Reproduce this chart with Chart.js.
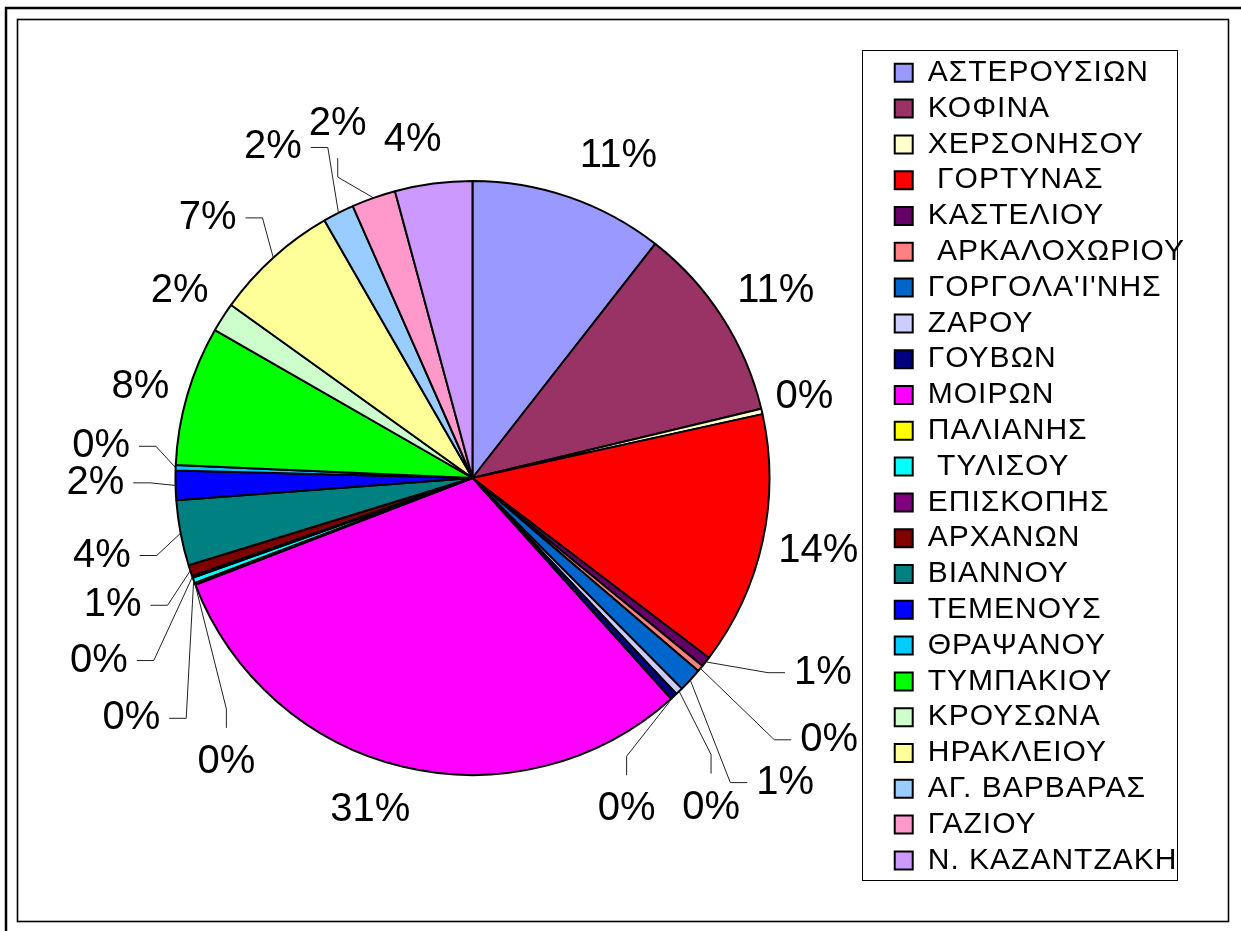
<!DOCTYPE html>
<html>
<head>
<meta charset="utf-8">
<script src="https://cdn.jsdelivr.net/npm/chart.js@4.4.1/dist/chart.umd.min.js"></script>
<style>
  body { margin: 0; background: #fff; }
  canvas { display: block; }
</style>
</head>
<body>
<canvas id="pieChart" width="1241" height="931"></canvas>
<script>
const categories = [
    'ΑΣΤΕΡΟΥΣΙΩΝ', 'ΚΟΦΙΝΑ', 'ΧΕΡΣΟΝΗΣΟΥ', ' ΓΟΡΤΥΝΑΣ', 'ΚΑΣΤΕΛΙΟΥ',
    ' ΑΡΚΑΛΟΧΩΡΙΟΥ', "ΓΟΡΓΟΛΑ'Ι'ΝΗΣ", 'ΖΑΡΟΥ', 'ΓΟΥΒΩΝ', 'ΜΟΙΡΩΝ',
    'ΠΑΛΙΑΝΗΣ', ' ΤΥΛΙΣΟΥ', 'ΕΠΙΣΚΟΠΗΣ', 'ΑΡΧΑΝΩΝ', 'ΒΙΑΝΝΟΥ',
    'ΤΕΜΕΝΟΥΣ', 'ΘΡΑΨΑΝΟΥ', 'ΤΥΜΠΑΚΙΟΥ', 'ΚΡΟΥΣΩΝΑ', 'ΗΡΑΚΛΕΙΟΥ',
    'ΑΓ. ΒΑΡΒΑΡΑΣ', 'ΓΑΖΙΟΥ', 'Ν. ΚΑΖΑΝΤΖΑΚΗ'
];
// share of each area (%)
const shares = [
    10.55, 10.7, 0.3, 13.8, 0.55,
    0.35, 1.3, 0.4, 0.4, 30.8,
    0.1, 0.3, 0.1, 0.6, 3.55,
    1.6, 0.3, 7.6, 1.6, 6.8,
    1.7, 2.4, 4.2
];
const sliceColors = [
    '#9999FF', '#993366', '#FFFFCC', '#FF0000', '#660066',
    '#FF8080', '#0066CC', '#CCCCFF', '#000080', '#FF00FF',
    '#FFFF00', '#00FFFF', '#800080', '#800000', '#008080',
    '#0000FF', '#00CCFF', '#00FF00', '#CCFFCC', '#FFFF99',
    '#99CCFF', '#FF99CC', '#CC99FF'
];

// label layout: turn away from the slice middle (deg), distance (radii), leader kind
const labelTurn = [5.4, 1.1, -0.7, -0.5, -9.2, -3.6, 1.4, 8.2, 17.7, 3.6,
    -28.2, -15.0, -6.6, -1.3, -1.1, 0.7, 2.9, -0.8, -0.2, -3.4, -4.3, -1.4, -2.5];
const labelReach = [1.19, 1.20, 1.15, 1.19, 1.35, 1.49, 1.47, 1.37, 1.23, 1.17,
    1.265, 1.405, 1.40, 1.285, 1.275, 1.27, 1.255, 1.16, 1.17, 1.25, 1.30, 1.275, 1.155];
const leaderKind = ['', '', '', '', 'h', 'h', 'h', 'v', 'v', '',
    'v', 'h', 'h', 'h', 'h', 'h', 'h', '', '', 'h', 'h', 'v', ''];

const fontFamily = '"Liberation Sans", Arial, sans-serif';
const legendSpacing = '1px';

const framePlugin = {
    id: 'frames',
    beforeLayout(chart) {
        chart.ctx.letterSpacing = legendSpacing;
    },
    afterLayout(chart) {
        chart.ctx.letterSpacing = '0px';
    },
    beforeDraw(chart) {
        const c = chart.ctx;
        c.save();
        c.fillStyle = '#fff';
        c.fillRect(0, 0, chart.width, chart.height);
        c.strokeStyle = '#000';
        c.lineWidth = 2.5;
        c.beginPath();
        c.moveTo(6, chart.height);
        c.lineTo(6, 8);
        c.lineTo(chart.width, 8);
        c.stroke();
        c.lineWidth = 1.6;
        c.strokeRect(17.5, 19.5, 1211, 902);
        c.restore();
        // the legend text runs a bit wider in the original
        c.letterSpacing = legendSpacing;
    },
    beforeDatasetsDraw(chart) {
        chart.ctx.letterSpacing = '0px';
    },
    afterDraw(chart) {
        const lg = chart.legend;
        const pad = lg.options.labels.padding;
        const c = chart.ctx;
        c.save();
        c.strokeStyle = '#000';
        c.lineWidth = 1;
        const x1 = Math.round(lg.left + pad - 33) + 0.5;
        const y1 = Math.round(lg.top - 2) + 0.5;
        c.strokeRect(x1, y1, 315, 830);
        c.restore();
    }
};

const percentPlugin = {
    id: 'percentLabels',
    afterDatasetsDraw(chart) {
        const c = chart.ctx;
        const meta = chart.getDatasetMeta(0);
        const total = shares.reduce((a, b) => a + b, 0);
        c.save();
        c.letterSpacing = '0px';
        c.font = '40px ' + fontFamily;
        c.fillStyle = '#000';
        c.textAlign = 'center';
        c.textBaseline = 'middle';
        meta.data.forEach((arc, i) => {
            const R = arc.outerRadius;
            const mid = (arc.startAngle + arc.endAngle) / 2;
            const a = mid + labelTurn[i] * Math.PI / 180;
            const lx = arc.x + Math.cos(a) * R * labelReach[i];
            const ly = arc.y + Math.sin(a) * R * labelReach[i];
            const text = Math.round(shares[i] / total * 100) + '%';
            c.fillText(text, lx, ly);

            const kind = leaderKind[i];
            if (!kind) return;
            const rx = arc.x + Math.cos(mid) * R;
            const ry = arc.y + Math.sin(mid) * R;
            const tw = c.measureText(text).width;
            let ex, ey, kx, ky;
            if (kind === 'h') {
                const dir = lx > rx ? -1 : 1;
                ex = lx + dir * (tw / 2 + 9);
                ey = ly;
                kx = ex + dir * 17;
                ky = ly;
            } else {
                const dir = ly > ry ? -1 : 1;
                ex = lx;
                ey = ly + dir * 34;
                kx = lx;
                ky = ey + dir * 19;
            }
            c.beginPath();
            c.strokeStyle = '#222';
            c.lineWidth = 1;
            c.moveTo(rx, ry);
            c.lineTo(kx, ky);
            c.lineTo(ex, ey);
            c.stroke();
        });
        c.restore();
    }
};

const ctx = document.getElementById('pieChart').getContext('2d');
const pieChart = new Chart(ctx, {
    type: 'pie',
    data: {
        labels: categories,
        datasets: [{
            data: shares,
            backgroundColor: sliceColors,
            borderColor: '#000',
            borderWidth: 2,
            radius: 297
        }]
    },
    options: {
        responsive: false,
        animation: false,
        layout: {
            padding: { left: 56, right: 46, top: 52, bottom: 27 }
        },
        plugins: {
            legend: {
                position: 'right',
                align: 'start',
                labels: {
                    color: '#000',
                    font: { family: fontFamily, size: 30 },
                    boxWidth: 18,
                    boxHeight: 18,
                    padding: 5.8
                }
            },
            tooltip: { enabled: false }
        }
    },
    plugins: [framePlugin, percentPlugin]
});
</script>
</body>
</html>
